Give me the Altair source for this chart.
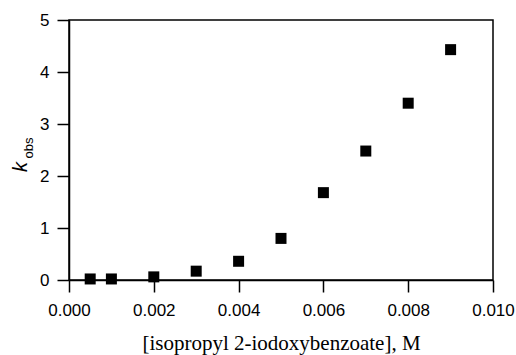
import altair as alt
import pandas as pd

# Data
concentration = [0.0005, 0.001, 0.002, 0.003, 0.004, 0.005, 0.006, 0.007, 0.008, 0.009]
k_obs = [0.02, 0.02, 0.06, 0.17, 0.36, 0.80, 1.68, 2.48, 3.40, 4.43]
x_ticks = [0.0, 0.002, 0.004, 0.006, 0.008, 0.010]
y_ticks = [0, 1, 2, 3, 4, 5]
x_title = "[isopropyl 2-iodoxybenzoate], M"
y_title_main = ["k"]
y_title_sub = ["obs"]

df = pd.DataFrame({"conc": concentration, "kobs": k_obs})

W, H = 424, 260

points = alt.Chart(df).mark_square(size=121, color="black", opacity=1).encode(
    x=alt.X(
        "conc:Q",
        scale=alt.Scale(domain=[0, 0.010], nice=False, zero=False),
        axis=alt.Axis(
            values=x_ticks,
            format=".3f",
            labelFlush=False,
            labelBaseline="alphabetic",
            labelPadding=23,
            title=x_title,
            titleFont="Liberation Serif",
            titleFontSize=21,
            titleFontWeight="normal",
            titleColor="black",
            titleBaseline="alphabetic",
            titleY=69,
            grid=False,
        ),
    ),
    y=alt.Y(
        "kobs:Q",
        scale=alt.Scale(domain=[0, 5], nice=False),
        axis=alt.Axis(values=y_ticks, format="d", title="", grid=False,
                      labelFlush=False, labelPadding=8),
    ),
)

k_text = alt.Chart(pd.DataFrame({"t": y_title_main})).mark_text(
    font="Liberation Sans", fontStyle="italic", fontSize=20, angle=270,
    align="center", baseline="alphabetic", color="black",
).encode(x=alt.value(-42), y=alt.value(147), text="t:N")

obs_text = alt.Chart(pd.DataFrame({"t": y_title_sub})).mark_text(
    font="Liberation Sans", fontSize=13, angle=270,
    align="center", baseline="alphabetic", color="black",
).encode(x=alt.value(-36), y=alt.value(128), text="t:N")

chart = alt.layer(points, k_text, obs_text).properties(
    width=W, height=H,
    autosize=alt.AutoSizeParams(type="none"),
    padding={"left": 69, "top": 20, "right": 23, "bottom": 75},
    background="white",
).configure_view(
    stroke="black", strokeWidth=1.5,
).configure_axis(
    domainColor="black", domainWidth=1.5,
    tickColor="black", tickWidth=1.5, tickSize=12,
    labelFont="Liberation Sans", labelFontSize=17, labelColor="black",
)

chart.save("out.html", embed_options={"renderer": "svg", "actions": False})
